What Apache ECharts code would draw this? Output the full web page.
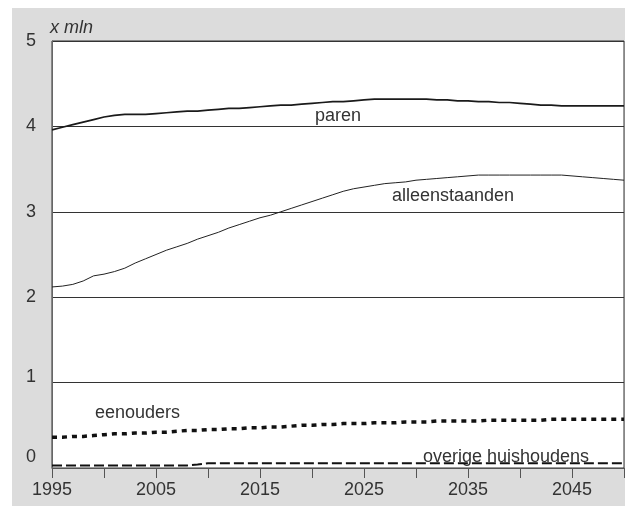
<!DOCTYPE html>
<html>
<head>
<meta charset="utf-8">
<script src="https://cdn.jsdelivr.net/npm/echarts@6/dist/echarts.min.js"></script>
<style>
html,body{margin:0;padding:0;background:#fff;}
#chart{width:627px;height:506px;}
</style>
</head>
<body>
<div id="chart"></div>
<script>
const years = [1995,1996,1997,1998,1999,2000,2001,2002,2003,2004,2005,2006,2007,2008,2009,2010,2011,2012,2013,2014,2015,2016,2017,2018,2019,2020,2021,2022,2023,2024,2025,2026,2027,2028,2029,2030,2031,2032,2033,2034,2035,2036,2037,2038,2039,2040,2041,2042,2043,2044,2045,2046,2047,2048,2049,2050];
const paren = [3.96,3.99,4.02,4.05,4.08,4.11,4.13,4.14,4.14,4.14,4.15,4.16,4.17,4.18,4.18,4.19,4.20,4.21,4.21,4.22,4.23,4.24,4.25,4.25,4.26,4.27,4.28,4.29,4.29,4.30,4.31,4.32,4.32,4.32,4.32,4.32,4.32,4.31,4.31,4.30,4.30,4.29,4.29,4.28,4.28,4.27,4.26,4.25,4.25,4.24,4.24,4.24,4.24,4.24,4.24,4.24];
const alleenstaanden = [2.12,2.13,2.15,2.19,2.25,2.27,2.30,2.34,2.40,2.45,2.50,2.55,2.59,2.63,2.68,2.72,2.76,2.81,2.85,2.89,2.93,2.96,3.00,3.04,3.08,3.12,3.16,3.20,3.24,3.27,3.29,3.31,3.33,3.34,3.35,3.37,3.38,3.39,3.40,3.41,3.42,3.43,3.43,3.43,3.43,3.43,3.43,3.43,3.43,3.43,3.42,3.41,3.40,3.39,3.38,3.37];
const eenouders = [0.36,0.36,0.37,0.37,0.38,0.39,0.40,0.40,0.41,0.41,0.42,0.42,0.43,0.44,0.44,0.45,0.45,0.46,0.46,0.47,0.47,0.48,0.48,0.49,0.50,0.50,0.51,0.51,0.52,0.52,0.52,0.53,0.53,0.53,0.54,0.54,0.54,0.55,0.55,0.55,0.55,0.55,0.56,0.56,0.56,0.56,0.56,0.56,0.57,0.57,0.57,0.57,0.57,0.57,0.57,0.57];
const overige = [0.03,0.03,0.03,0.03,0.03,0.03,0.03,0.03,0.03,0.03,0.03,0.03,0.03,0.03,0.04,0.055,0.055,0.055,0.055,0.055,0.055,0.055,0.055,0.055,0.055,0.055,0.055,0.055,0.055,0.055,0.055,0.055,0.055,0.055,0.055,0.055,0.055,0.055,0.055,0.055,0.055,0.055,0.055,0.055,0.055,0.055,0.055,0.055,0.055,0.055,0.055,0.055,0.055,0.055,0.055,0.055];
const seriesNames = ['paren','alleenstaanden','eenouders','overige huishoudens'];
const yUnit = 'x mln';

const pairs = arr => years.map((y, i) => [y, arr[i]]);
const FONT = '"Liberation Sans", Arial, sans-serif';

const chart = echarts.init(document.getElementById('chart'));
chart.setOption({
  animation: false,
  backgroundColor: '#fff',
  graphic: [
    { type: 'rect', z: -10, silent: true, shape: { x: 12, y: 8, width: 613, height: 498 }, style: { fill: '#dcdcdc' } },
    { type: 'text', left: 50, top: 19, style: { text: yUnit, font: 'italic 18px ' + FONT, fill: '#333' } },
    { type: 'text', left: 315, top: 107, style: { text: seriesNames[0], font: '18px ' + FONT, fill: '#333' } },
    { type: 'text', left: 392, top: 187, style: { text: seriesNames[1], font: '18px ' + FONT, fill: '#333' } },
    { type: 'text', left: 95, top: 404, style: { text: seriesNames[2], font: '18px ' + FONT, fill: '#333' } },
    { type: 'text', left: 423, top: 448, style: { text: seriesNames[3], font: '18px ' + FONT, fill: '#333' } }
  ],
  grid: { left: 52, right: 3, top: 41, bottom: 38, show: true, backgroundColor: '#fff', borderColor: '#333', borderWidth: 1 },
  xAxis: {
    type: 'value', min: 1995, max: 2050, interval: 5,
    axisLine: { show: true, lineStyle: { color: '#555', width: 1 } },
    axisTick: { show: true, length: 10, lineStyle: { color: '#555' } },
    splitLine: { show: false },
    axisLabel: {
      margin: 13, color: '#333', fontSize: 18, fontFamily: FONT,
      formatter: v => ((v - 1995) % 10 === 0 && v < 2050) ? String(v) : ''
    }
  },
  yAxis: {
    type: 'value', min: 0, max: 5, interval: 1,
    axisLine: { show: true, lineStyle: { color: '#666' } },
    axisTick: { show: false },
    splitLine: { show: true, lineStyle: { color: '#333', width: 1 } },
    axisLabel: {
      margin: 16, color: '#333', fontSize: 18, fontFamily: FONT,
      formatter: v => v === 0 ? '{lo|0}' : v === 1 ? '{mid|1}' : String(v),
      rich: {
        lo: { fontSize: 18, fontFamily: FONT, color: '#333', padding: [0, 0, 22, 0] },
        mid: { fontSize: 18, fontFamily: FONT, color: '#333', padding: [0, 0, 12, 0] }
      }
    }
  },
  series: [
    { name: seriesNames[0], type: 'line', data: pairs(paren), showSymbol: false, lineStyle: { color: '#1a1a1a', width: 1.7 } },
    { name: seriesNames[1], type: 'line', data: pairs(alleenstaanden), showSymbol: false, lineStyle: { color: '#222', width: 1 } },
    { name: seriesNames[2], type: 'line', data: pairs(eenouders), showSymbol: false, lineStyle: { color: '#111', width: 3.5, type: [5, 5] } },
    { name: seriesNames[3], type: 'line', data: pairs(overige), showSymbol: false, lineStyle: { color: '#111', width: 2, type: [10, 4] } }
  ]
});
</script>
</body>
</html>
